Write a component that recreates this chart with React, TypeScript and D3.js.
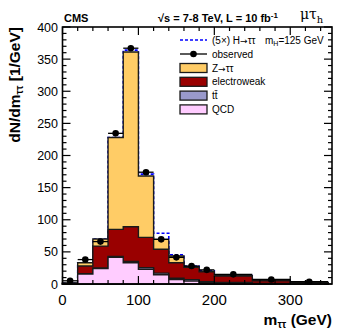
import React from 'react';
import { scaleLinear, area, line, curveStepAfter, range } from 'd3';

// bin edges of m_tautau (GeV)
const binEdges = [0, 20, 40, 60, 80, 100, 120, 140, 160, 180, 200, 250, 300, 350];

// stacked backgrounds, dN/dm [1/GeV]
const qcd = [0.5, 15.5, 24, 41.5, 33, 23, 14.5, 7, 4.5, 2, 1.5, 0.5, 0.2];
const ttbar = [0.1, 0.5, 1, 1.5, 2, 2.5, 2.5, 2, 2, 1.5, 1, 0.5, 0.2];
const electroweak = [0.5, 12, 34, 42, 54, 47, 37, 24, 19.5, 15.5, 10, 4, 1.6];
const ztautau = [0.5, 5, 11, 143, 272, 95.5, 15.5, 10.5, 1, 1, 0.5, 0.5, 0.1];
// (5x) H->tautau on top of the stack
const signal = [0, 0, 0, 0, 3, 3, 9.5, 2, 1, 0.5, 0.3, 0.1, 0];
const observed = [5, 38, 66, 234.5, 367, 174, 69.5, 41.5, 28, 22, 15, 7, 3.5];

const xTicks = [0, 100, 200, 300];
const yTicks = [0, 50, 100, 150, 200, 250, 300, 350, 400];

const legendRows = [
  { key: 'ztt', color: '#ffcc66' },
  { key: 'ewk', color: '#990000' },
  { key: 'tt', color: '#9999cc' },
  { key: 'qcd', color: '#ffccff' },
];

const font = 'Liberation Sans, Arial, Helvetica, sans-serif';
const arrowFont = 'DejaVu Sans, sans-serif';

export default function App() {
  const width = 349;
  const height = 335;
  const x = scaleLinear().domain([0, 355]).range([62.5, 332]);
  const y = scaleLinear().domain([0, 400]).range([284, 27]);

  const cumulate = (layers: number[][]) =>
    binEdges.slice(0, -1).map((_, i) => layers.reduce((s, l) => s + l[i], 0));

  const pinkTop = cumulate([qcd]);
  const ttTop = cumulate([qcd, ttbar]);
  const redTop = cumulate([qcd, ttbar, electroweak]);
  const orangeTop = cumulate([qcd, ttbar, electroweak, ztautau]);
  const sigTop = cumulate([qcd, ttbar, electroweak, ztautau, signal]);

  const toSteps = (vals: number[]) =>
    binEdges.map((e, i) => ({ e, v: vals[Math.min(i, vals.length - 1)] }));

  const stepArea = area<{ e: number; v: number }>()
    .x(d => x(d.e))
    .y0(y(0))
    .y1(d => y(d.v))
    .curve(curveStepAfter);

  const stepLine = line<{ e: number; v: number }>()
    .x(d => x(d.e))
    .y(d => y(d.v))
    .curve(curveStepAfter);

  const stack = [
    { top: orangeTop, color: '#ffcc66' },
    { top: redTop, color: '#990000' },
    { top: ttTop, color: '#9999cc' },
    { top: pinkTop, color: '#ffccff' },
  ];

  const [x0, x1] = x.range();
  const [yb, yt] = y.range();
  const minorX = range(0, 356, 20);
  const minorY = range(0, 401, 10);

  const legendLabel = (key: string) => {
    if (key === 'ztt') return (<>Z<tspan fontFamily={arrowFont} fontSize={9}>{'\u2192'}</tspan>{'\u03c4\u03c4'}</>);
    if (key === 'ewk') return 'electroweak';
    if (key === 'tt') return 'tt\u0304';
    return 'QCD';
  };

  return (
    <svg width={width} height={height} style={{ position: 'absolute', left: 0, top: 0 }}>
      <rect width={width} height={height} fill="#fff" />

      {/* signal on top of stack */}
      <path d={stepLine(toSteps(sigTop)) || ''} fill="none" stroke="#0000ff" strokeWidth={1.6} strokeDasharray="3,2" />

      {/* stacked backgrounds */}
      {stack.map((s, i) => (
        <path key={i} d={stepArea(toSteps(s.top)) || ''} fill={s.color} stroke="#1a1a1a" strokeWidth={1.4} />
      ))}

      {/* observed */}
      {observed.map((v, i) => {
        const w = binEdges[i + 1] - binEdges[i];
        const err = Math.sqrt(v * w) / w;
        const cx = x((binEdges[i] + binEdges[i + 1]) / 2);
        return (
          <g key={i}>
            <line x1={x(binEdges[i])} x2={x(binEdges[i + 1])} y1={y(v)} y2={y(v)} stroke="#000" strokeWidth={1.3} />
            <line x1={cx} x2={cx} y1={y(v - err)} y2={y(v + err)} stroke="#000" strokeWidth={1.3} />
            <circle cx={cx} cy={y(v)} r={3.3} fill="#000" />
          </g>
        );
      })}

      {/* frame and ticks */}
      <rect x={x0} y={yt} width={x1 - x0} height={yb - yt} fill="none" stroke="#000" strokeWidth={1.6} />
      {minorX.map(t => {
        const len = xTicks.includes(t) ? 8 : 4;
        return (
          <g key={'x' + t}>
            <line x1={x(t)} x2={x(t)} y1={yb} y2={yb - len} stroke="#000" strokeWidth={1.2} />
            <line x1={x(t)} x2={x(t)} y1={yt} y2={yt + len} stroke="#000" strokeWidth={1.2} />
          </g>
        );
      })}
      {minorY.map(t => {
        const len = yTicks.includes(t) ? 8 : 4;
        return (
          <g key={'y' + t}>
            <line x1={x0} x2={x0 + len} y1={y(t)} y2={y(t)} stroke="#000" strokeWidth={1.2} />
            <line x1={x1} x2={x1 - len} y1={y(t)} y2={y(t)} stroke="#000" strokeWidth={1.2} />
          </g>
        );
      })}

      {/* tick labels */}
      {xTicks.map(t => (
        <text key={'xl' + t} x={x(t)} y={305} textAnchor="middle" fontFamily={font} fontSize={15} fill="#000">{t}</text>
      ))}
      {yTicks.map(t => (
        <text key={'yl' + t} x={58} y={y(t) + 4.5} textAnchor="end" fontFamily={font} fontSize={12.5} fill="#000">{t}</text>
      ))}

      {/* axis titles */}
      <text x={332} y={325} textAnchor="end" fontFamily={font} fontSize={15.5} fontWeight="bold" fill="#000">
        m<tspan fontSize={10} dy={3}>{'\u03c4\u03c4'}</tspan><tspan dy={-3}> (GeV)</tspan>
      </text>
      <text transform={`translate(20,${yt}) rotate(-90)`} textAnchor="end" fontFamily={font} fontSize={15.5} fontWeight="bold" fill="#000">
        dN/dm<tspan fontSize={10} dy={3}>{'\u03c4\u03c4'}</tspan><tspan dy={-3}> [1/GeV]</tspan>
      </text>

      {/* header */}
      <text x={64} y={22} fontFamily={font} fontSize={11} fontWeight="bold" fill="#000">CMS</text>
      <text x={158} y={22} fontFamily={font} fontSize={11} fontWeight="bold" fill="#000">
        {'\u221As = 7-8 TeV, L = 10 fb'}<tspan fontSize={8} dy={-4}>-1</tspan>
      </text>
      <text x={300} y={19} fontFamily="DejaVu Serif, serif" fontSize={14} fill="#000">
        {'\u03bc\u03c4'}<tspan fontSize={10} dy={4}>h</tspan>
      </text>

      {/* legend */}
      <line x1={180} x2={207} y1={40} y2={40} stroke="#0000ff" strokeWidth={1.4} strokeDasharray="3,2" />
      <text x={212} y={43.5} fontFamily={font} fontSize={10} fill="#000">
        (5{'\u00d7'}) H<tspan fontFamily={arrowFont} fontSize={9}>{'\u2192'}</tspan>{'\u03c4\u03c4'}
      </text>
      <text x={265} y={43.5} fontFamily={font} fontSize={10} fill="#000">
        m<tspan fontSize={7} dy={2}>H</tspan><tspan dy={-2}>=125 GeV</tspan>
      </text>
      <line x1={180} x2={207} y1={54} y2={54} stroke="#000" strokeWidth={1.3} />
      <circle cx={193.5} cy={54} r={3.3} fill="#000" />
      <text x={212} y={57.5} fontFamily={font} fontSize={10} fill="#000">observed</text>
      {legendRows.map((r, i) => {
        const cy = 68 + i * 13.8;
        return (
          <g key={r.key}>
            <rect x={180} y={cy - 4.5} width={27} height={9} fill={r.color} stroke="#1a1a1a" strokeWidth={1.3} />
            <text x={212} y={cy + 3.5} fontFamily={font} fontSize={10} fill="#000">{legendLabel(r.key)}</text>
          </g>
        );
      })}
    </svg>
  );
}
